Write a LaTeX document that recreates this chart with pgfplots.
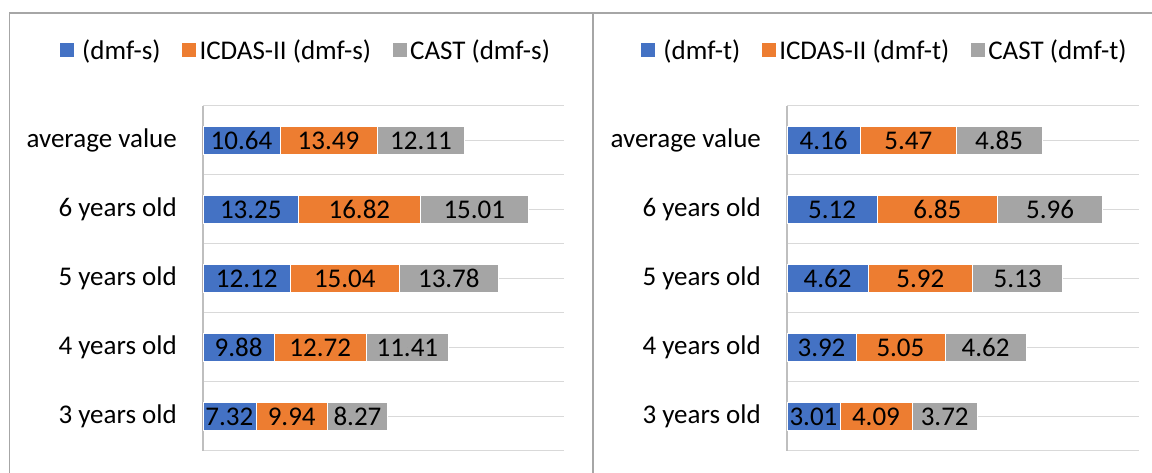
\documentclass[border=0pt]{standalone}
\usepackage{fontspec}
\setmainfont{Carlito}
\usepackage{pgfplots}
\usepackage{pgfplotstable}
\pgfplotsset{compat=1.18}
\definecolor{cblue}{HTML}{4472C4}
\definecolor{corange}{HTML}{ED7D31}
\definecolor{cgray}{HTML}{A5A5A5}
\definecolor{gridgray}{HTML}{D9D9D9}
\definecolor{axisgray}{HTML}{BFBFBF}
\definecolor{framegray}{HTML}{A6A6A6}

% values: a = (dmf), b = ICDAS-II, c = CAST
\pgfplotstableread{
y a b c
0 7.32 9.94 8.27
1 9.88 12.72 11.41
2 12.12 15.04 13.78
3 13.25 16.82 15.01
4 10.64 13.49 12.11
}\dataS

\pgfplotstableread{
y a b c
0 3.01 4.09 3.72
1 3.92 5.05 4.62
2 4.62 5.92 5.13
3 5.12 6.85 5.96
4 4.16 5.47 4.85
}\dataT

% cumulative ends and segment middles, computed from the values
\pgfplotstablecreatecol[create col/expr={\thisrow{a}+\thisrow{b}}]{ab}\dataS
\pgfplotstablecreatecol[create col/expr={\thisrow{a}+\thisrow{b}+\thisrow{c}}]{abc}\dataS
\pgfplotstablecreatecol[create col/expr={\thisrow{a}/2}]{ma}\dataS
\pgfplotstablecreatecol[create col/expr={\thisrow{a}+\thisrow{b}/2}]{mb}\dataS
\pgfplotstablecreatecol[create col/expr={\thisrow{a}+\thisrow{b}+\thisrow{c}/2}]{mc}\dataS
\pgfplotstablecreatecol[create col/expr={\thisrow{a}+\thisrow{b}}]{ab}\dataT
\pgfplotstablecreatecol[create col/expr={\thisrow{a}+\thisrow{b}+\thisrow{c}}]{abc}\dataT
\pgfplotstablecreatecol[create col/expr={\thisrow{a}/2}]{ma}\dataT
\pgfplotstablecreatecol[create col/expr={\thisrow{a}+\thisrow{b}/2}]{mb}\dataT
\pgfplotstablecreatecol[create col/expr={\thisrow{a}+\thisrow{b}+\thisrow{c}/2}]{mc}\dataT

\pgfplotsset{
  mystyle/.style={
    scale only axis,
    height=345pt,
    anchor=south west,
    xmin=0,
    ymin=-0.5, ymax=4.5,
    hide x axis,
    axis y line*=left,
    y axis line style={draw=axisgray, line width=1.3pt, -},
    ytick={0,1,2,3,4},
    yticklabels={3 years old,4 years old,5 years old,6 years old,average value},
    minor ytick={-0.5,0.5,1.5,2.5,3.5,4.5},
    major tick length=0pt,
    minor tick length=0pt,
    ymajorgrids, yminorgrids,
    major grid style={draw=gridgray, line width=1pt},
    minor grid style={draw=gridgray, line width=1pt},
    yticklabel style={inner sep=0pt, xshift=-26pt, anchor=east},
    /pgf/number format/.cd, fixed, precision=2, zerofill, assume math mode=true,
    /pgfplots/.cd,
    legend columns=3,
    legend cell align=left,
    legend image code/.code={\fill[##1,draw=none] (0pt,-5pt) rectangle (14pt,9pt);},
    legend style={draw=none, fill=none, anchor=center,
      /tikz/every even column/.append style={column sep=18pt},
      nodes={inner xsep=3.5pt}},
  },
  seg/.style={xbar, bar shift=0pt, bar width=28pt, draw=white, line width=0.6pt, forget plot},
  lab/.style={only marks, mark=*, mark size=0pt, mark options={draw=none, fill=none},
    forget plot, point meta=explicit, nodes near coords,
    every node near coord/.style={anchor=center, text=black, inner sep=0pt}},
}

\begin{document}
\fontsize{27}{32}\selectfont
\begin{tikzpicture}
\useasboundingbox (0pt,0pt) rectangle (1152pt,473pt);
\draw[framegray, line width=1.8pt] (9.5pt,0pt) -- (9.5pt,460pt) -- (1152pt,460pt);
\draw[framegray, line width=1.8pt] (593pt,0pt) -- (593pt,460pt);

\begin{axis}[mystyle, at={(203pt,22pt)}, width=361pt, xmax=50,
  legend style={at={(axis description cs:0.287,1.157)}}]
\addplot[seg, fill=cgray] table[x=abc, y=y] {\dataS};
\addplot[seg, fill=corange] table[x=ab, y=y] {\dataS};
\addplot[seg, fill=cblue] table[x=a, y=y] {\dataS};
\addplot[lab] table[x=ma, y=y, meta=a] {\dataS};
\addplot[lab] table[x=mb, y=y, meta=b] {\dataS};
\addplot[lab] table[x=mc, y=y, meta=c] {\dataS};
\addlegendimage{fill=cblue}
\addlegendentry{\hspace*{5pt}(dmf-s)}
\addlegendimage{fill=corange}
\addlegendentry{ICDAS-II (dmf-s)}
\addlegendimage{fill=cgray}
\addlegendentry{CAST (dmf-s)}
\end{axis}

\begin{axis}[mystyle, at={(787pt,22pt)}, width=352pt, xmax=20,
  legend style={at={(axis description cs:0.28,1.157)}}]
\addplot[seg, fill=cgray] table[x=abc, y=y] {\dataT};
\addplot[seg, fill=corange] table[x=ab, y=y] {\dataT};
\addplot[seg, fill=cblue] table[x=a, y=y] {\dataT};
\addplot[lab] table[x=ma, y=y, meta=a] {\dataT};
\addplot[lab] table[x=mb, y=y, meta=b] {\dataT};
\addplot[lab] table[x=mc, y=y, meta=c] {\dataT};
\addlegendimage{fill=cblue}
\addlegendentry{\hspace*{5pt}(dmf-t)}
\addlegendimage{fill=corange}
\addlegendentry{ICDAS-II (dmf-t)}
\addlegendimage{fill=cgray}
\addlegendentry{CAST (dmf-t)}
\end{axis}
\end{tikzpicture}
\end{document}
